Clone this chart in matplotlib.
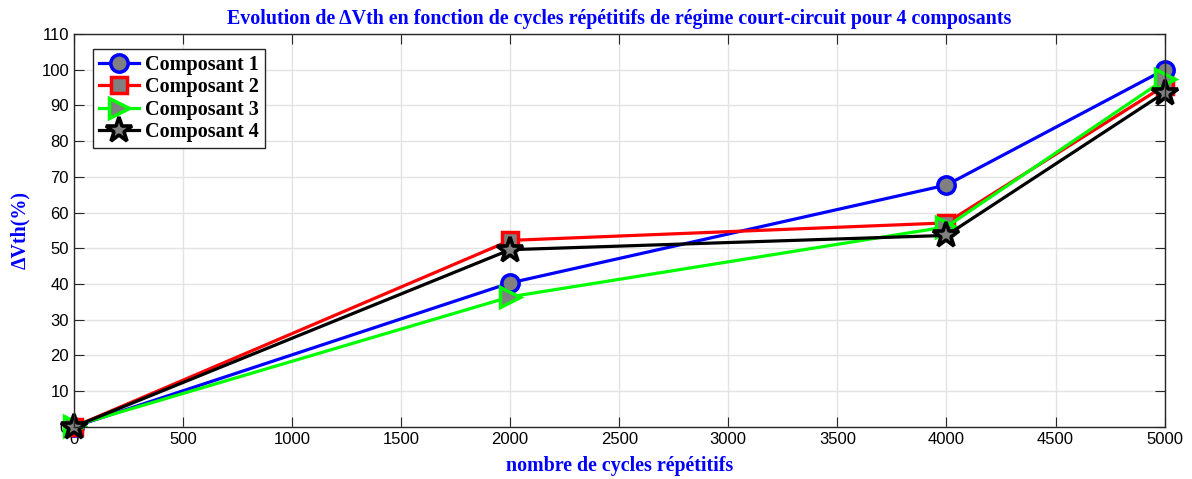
import numpy as np
from matplotlib import pyplot as plt

cycles = [0, 2000, 4000, 5000]
comp1 = [0, 40.3, 67.7, 100]
comp2 = [0, 52.2, 57.1, 95.5]
comp3 = [0.3, 36.4, 56.0, 97.3]
comp4 = [0, 49.6, 53.6, 93.6]
names = ["Composant 1", "Composant 2", "Composant 3", "Composant 4"]

plt.rcParams['font.family'] = ['Liberation Sans', 'DejaVu Sans']

fig = plt.figure(figsize=(11.92, 4.79), dpi=100)
ax = fig.add_axes([0.062, 0.109, 0.915, 0.820])

gray = '#808080'
ax.plot(cycles, comp1, color='blue', lw=2.3, marker='o', ms=12.5, mfc=gray, mec='blue', mew=2.5, label=names[0], clip_on=False)
ax.plot(cycles, comp2, color='red', lw=2.3, marker='s', ms=11, mfc=gray, mec='red', mew=2.5, label=names[1], clip_on=False)
ax.plot(cycles, comp3, color='#00ff00', lw=2.3, marker='>', ms=14, mfc=gray, mec='#00ff00', mew=2.5, label=names[2], clip_on=False)
ax.plot(cycles, comp4, color='black', lw=2.3, marker='*', ms=19, mfc=gray, mec='black', mew=2.6, label=names[3], clip_on=False)

ax.set_xlim(0, 5000)
ax.set_ylim(0, 110)
ax.set_xticks(np.arange(0, 5001, 500))
ax.set_yticks(np.arange(0, 111, 10))
ax.tick_params(direction='in', top=True, right=True, labelsize=12, length=7, color='#262626')
ax.grid(True, color='#e3e3e3', lw=1)
ax.set_axisbelow(True)
for s in ax.spines.values():
    s.set_color('#262626')
    s.set_linewidth(1)

serif = ['Liberation Serif', 'DejaVu Serif']
ax.set_title("Evolution de \u0394Vth en fonction de cycles répétitifs de régime court-circuit pour 4 composants",
             color='blue', fontweight='bold', family=serif, fontsize=14.4, pad=7)
ax.set_xlabel("nombre de cycles répétitifs", color='blue', fontweight='bold', family=serif, fontsize=14.4, labelpad=7)
ax.set_ylabel("\u0394Vth(%)", color='blue', fontweight='bold', family=serif, fontsize=14.4, labelpad=8)

leg = ax.legend(loc='upper left', bbox_to_anchor=(0.0174, 0.962), prop={'family': serif, 'weight': 'bold', 'size': 14.5},
                fancybox=False, edgecolor='#262626', framealpha=1, handlelength=2.0, borderpad=0.3,
                labelspacing=0.12, handletextpad=0.3, borderaxespad=0)
leg.get_frame().set_linewidth(1)

fig.savefig("out.png", dpi=100)
